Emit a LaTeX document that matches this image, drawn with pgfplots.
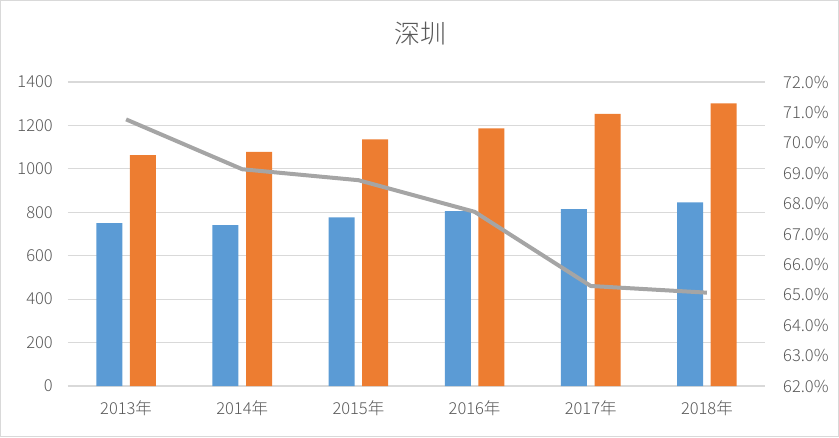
\documentclass[border=0pt]{standalone}
\usepackage{pgfplots}
\pgfplotsset{compat=1.18}
\usepackage{fontspec}
\setmainfont{Noto Sans CJK SC}[UprightFont={* Light}]
\definecolor{cblue}{HTML}{5B9BD5}
\definecolor{corange}{HTML}{ED7D31}
\definecolor{cgray}{HTML}{A5A5A5}
\definecolor{gridc}{HTML}{D9D9D9}
\definecolor{txt}{HTML}{595959}
\begin{document}
\begin{tikzpicture}
\path[draw=gridc, line width=1pt] (0.5pt,0.5pt) rectangle (838.5pt,436.5pt);
\node[text=txt, font=\fontsize{26}{30}\selectfont] at (420pt,403pt) {深圳};
\begin{axis}[
  at={(68pt,51pt)}, anchor=south west,
  scale only axis, width=697pt, height=304pt,
  ybar, bar width=26pt,
  xmin=-0.5, xmax=5.5, ymin=0, ymax=1400,
  ytick={0,200,...,1400},
  xtick={0,...,5},
  xticklabels={2013年,2014年,2015年,2016年,2017年,2018年},
  axis line style={draw=none},
  major tick length=0pt,
  ymajorgrids, grid style={gridc, line width=1.2pt},
  /pgf/number format/assume math mode=true,
  /pgf/number format/1000 sep={},
  tick label style={text=txt, font=\fontsize{16.5}{19}\selectfont},
  yticklabel style={inner sep=0pt, xshift=-15pt},
  xticklabel style={inner sep=0pt, yshift=-14pt},
]
\addplot[fill=cblue, draw=none, bar shift=-16.8pt] coordinates {(0,750) (1,741) (2,777) (3,805) (4,814) (5,846)};
\addplot[fill=corange, draw=none, bar shift=16.8pt] coordinates {(0,1063) (1,1078) (2,1136) (3,1187) (4,1253) (5,1302)};
\end{axis}
\begin{axis}[
  at={(68pt,51pt)}, anchor=south west,
  scale only axis, width=697pt, height=304pt,
  xmin=-0.5, xmax=5.5, ymin=62, ymax=72,
  ytick={62,63,...,72},
  axis y line*=right, axis x line=none,
  axis line style={draw=none},
  major tick length=0pt,
  xtick=\empty,
  /pgf/number format/assume math mode=true,
  tick label style={text=txt, font=\fontsize{16.5}{19}\selectfont},
  yticklabel style={inner sep=0pt, xshift=18pt, anchor=west},
  yticklabel={\pgfmathprintnumber[fixed,fixed zerofill,precision=1]{\tick}\%},
]
\addplot[cgray, line width=4pt, mark=none] coordinates {(0,70.77) (1,69.13) (2,68.77) (3,67.73) (4,65.29) (5,65.07)};
\end{axis}
\end{tikzpicture}
\end{document}
